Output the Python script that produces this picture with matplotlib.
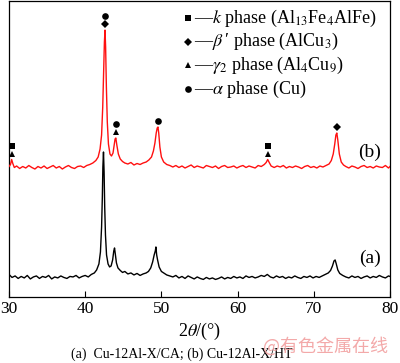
import numpy as np
import matplotlib
matplotlib.use("Agg")
import matplotlib.pyplot as plt

plt.rcParams["font.family"] = ["Liberation Serif", "DejaVu Serif"]
plt.rcParams["mathtext.fontset"] = "stix"

# XRD pattern (a) Cu-12Al-X/CA, intensity in a.u.
black_theta = [
    30.0, 30.4, 30.8, 31.2, 31.6, 32.0, 32.4, 32.8, 33.2, 33.6,
    34.0, 34.4, 34.8, 35.2, 35.6, 36.0, 36.4, 36.8, 37.2, 37.6,
    38.0, 38.4, 38.8, 39.2, 39.6, 40.0, 40.4, 40.8, 41.2,
    41.5, 41.8, 42.0, 42.15, 42.25, 42.32, 42.4, 42.48, 42.56, 42.66,
    42.8, 43.0, 43.2, 43.4, 43.6, 43.75, 43.85, 43.95, 44.1, 44.3,
    44.6, 44.9, 45.2, 45.6, 46.0, 46.4, 46.8, 47.2, 47.6, 48.0,
    48.3, 48.6, 48.85, 49.05, 49.2, 49.28, 49.38, 49.5, 49.7, 50.0,
    50.3, 50.7, 51.1,
    51.5, 51.9, 52.3, 52.7, 53.1, 53.5, 53.9, 54.3, 54.7, 55.1,
    55.5, 55.9, 56.3, 56.7, 57.1, 57.5, 57.9, 58.3, 58.7, 59.1,
    59.5, 59.9, 60.3, 60.7, 61.1, 61.5, 61.9, 62.3, 62.7, 63.1,
    63.5, 63.9, 64.3, 64.7, 65.1, 65.5, 65.9, 66.3, 66.7, 67.1,
    67.5, 67.9, 68.3, 68.7, 69.1, 69.5, 69.9, 70.3, 70.7, 71.1,
    71.5,
    71.9, 72.2, 72.45, 72.65, 72.8, 72.95, 73.15, 73.4, 73.8,
    74.2, 74.6, 75.0, 75.4, 75.8, 76.2, 76.6, 77.0, 77.4, 77.8,
    78.2, 78.6, 79.0, 79.4, 79.8, 80.0,
]
black_int = [
    225, 195, 210, 185, 205, 190, 215, 180, 200, 210,
    185, 205, 195, 215, 180, 200, 190, 210, 195, 185,
    205, 200, 215, 190, 205, 215, 200, 225, 240,
    270, 330, 450, 700, 1000, 1300, 1450, 1250, 900, 620,
    420, 330, 300, 310, 370, 460, 490, 430, 340, 290,
    265, 245, 255, 230, 240, 220, 235, 215, 230, 240,
    255, 290, 350, 420, 460, 500, 420, 370, 300, 255,
    240, 220, 210,
    200, 215, 190, 205, 185, 210, 195, 180, 200, 185,
    175, 195, 180, 190, 175, 185, 200, 180, 195, 185,
    205, 190, 200, 185, 210, 195, 205, 190, 200, 215,
    205, 225, 200, 190, 210, 195, 205, 185, 200, 190,
    210, 195, 185, 205, 195, 210, 190, 205, 195, 210,
    225,
    240, 265, 310, 360, 370, 330, 270, 235, 215,
    200, 190, 210, 195, 205, 185, 200, 210, 190, 205,
    195, 215, 200, 190, 210, 205,
]

# XRD pattern (b) Cu-12Al-X/HT, intensity in a.u. (stacked by red_shift)
red_theta = [
    30.0, 30.2, 30.35, 30.5, 30.7, 31.0,
    31.4, 31.8, 32.2, 32.6, 33.0, 33.4, 33.8, 34.2, 34.6, 35.0,
    35.4, 35.8, 36.2, 36.6, 37.0, 37.4, 37.8, 38.2, 38.6, 39.0,
    39.4, 39.8, 40.2, 40.6, 41.0,
    41.4, 41.7, 41.95, 42.15, 42.3, 42.42, 42.52, 42.6, 42.68, 42.78,
    42.9, 43.05, 43.25, 43.45, 43.65, 43.8, 43.92, 44.02, 44.15, 44.35,
    44.6, 44.9, 45.2, 45.6, 46.0, 46.4, 46.8, 47.2, 47.6, 48.0,
    48.35, 48.7, 48.95, 49.15, 49.32, 49.45, 49.55, 49.65, 49.8, 50.0,
    50.3, 50.7, 51.1,
    51.5, 51.9, 52.3, 52.7, 53.1, 53.5, 53.9, 54.3, 54.7, 55.1,
    55.5, 55.9, 56.3, 56.7, 57.1, 57.5, 57.9, 58.3, 58.7, 59.1,
    59.5, 59.9, 60.3, 60.7, 61.1, 61.5, 61.9, 62.3, 62.7, 63.1,
    63.5, 63.75, 63.95, 64.15, 64.4,
    64.8, 65.2, 65.6, 66.0, 66.4, 66.8, 67.2, 67.6, 68.0, 68.4,
    68.8, 69.2, 69.6, 70.0, 70.4, 70.8, 71.2, 71.6,
    72.0, 72.3, 72.55, 72.75, 72.9, 73.02, 73.15, 73.35, 73.6, 73.9,
    74.2, 74.6, 75.0, 75.4, 75.8, 76.2, 76.6, 77.0, 77.4, 77.8,
    78.2, 78.6, 79.0, 79.4, 79.8, 80.0,
]
red_int = [
    205, 225, 275, 235, 195, 210,
    185, 205, 190, 215, 195, 180, 205, 190, 210, 185,
    200, 215, 190, 205, 180, 200, 215, 195, 185, 205,
    210, 195, 215, 225, 240,
    265, 300, 380, 520, 800, 1150, 1450, 1570, 1400, 1000,
    650, 430, 330, 310, 340, 420, 480, 490, 420, 330,
    280, 255, 240, 230, 245, 220, 235, 225, 240, 250,
    270, 300, 360, 440, 540, 590, 600, 540, 400, 300,
    250, 225, 215,
    200, 215, 195, 210, 190, 205, 220, 195, 210, 200,
    190, 215, 205, 195, 210, 185, 205, 215, 195, 200,
    210, 190, 205, 215, 195, 210, 200, 190, 215, 205,
    225, 245, 275, 245, 210,
    195, 210, 200, 215, 190, 205, 195, 210, 200, 185,
    205, 215, 195, 205, 190, 210, 200, 215,
    230, 265, 330, 430, 520, 540, 470, 330, 250, 220,
    205, 190, 210, 200, 185, 205, 215, 195, 205, 190,
    210, 200, 195, 215, 190, 205,
]
red_shift = 1100

# phase marks over the (b) pattern, listed bottom to top
mark_theta = [30.4, 42.6, 44.0, 49.55, 63.95, 73.0]
mark_phases = [["^", "s"], ["D", "o"], ["^", "o"], ["o"], ["^", "s"], ["D"]]

legend_marks = ["s", "D", "^", "o"]
legend_labels = [
    r"$\mathit{k}$ phase (Al$_{13}$Fe$_{4}$AlFe)",
    r"$\beta$" + "\u2009\u2032 phase (AlCu$_{3}$)",
    r"$\gamma_{2}$ phase (Al$_{4}$Cu$_{9}$)",
    r"$\alpha$ phase (Cu)",
]

fig = plt.figure(figsize=(4.0, 3.63), dpi=100)
ax = fig.add_axes([0.0225, 0.182, 0.9525, 0.815])

red_total = np.array(red_int) + red_shift
ax.plot(black_theta, black_int, color="black", lw=1.0, zorder=2)
ax.plot(red_theta, red_total, color="#ff1010", lw=1.0, zorder=3)

msize = {"s": 4.4, "D": 3.6, "^": 4.6, "o": 4.8}
for th, syms in zip(mark_theta, mark_phases):
    sel = np.abs(np.array(red_theta) - th) < 0.3
    top = red_total[sel].max()
    for i, s in enumerate(syms):
        ax.plot(th, top + 60 + 80 * i, marker=s, color="black", ms=msize[s],
                mew=0, zorder=4)

legend_y = [0.943, 0.862, 0.784, 0.703]
for s, lab, y in zip(legend_marks, legend_labels, legend_y):
    ax.plot(0.470, y, marker=s, color="black", ms=msize[s], mew=0,
            transform=ax.transAxes, clip_on=False)
    ax.text(0.485, y, "\u2014" + lab, transform=ax.transAxes, fontsize=13,
            va="center", ha="left")

ax.text(0.977, 0.49, "(b)", transform=ax.transAxes, fontsize=14,
        ha="right", va="center")
ax.text(0.977, 0.13, "(a)", transform=ax.transAxes, fontsize=14,
        ha="right", va="center")

ax.set_xlim(30, 80)
ax.set_ylim(0, 2960)
ax.set_xticks([30, 40, 50, 60, 70, 80])
ax.set_yticks([])
ax.tick_params(axis="x", direction="in", length=4, width=0.8, pad=3,
               labelsize=12.5, top=False)
for sp in ax.spines.values():
    sp.set_linewidth(0.9)

ax.set_xlabel(r"2$\theta$/(°)", fontsize=13, labelpad=3)

fig.text(0.455, 0.025, "(a)  Cu-12Al-X/CA; (b) Cu-12Al-X/HT", fontsize=10,
         ha="center", va="center")
fig.text(0.815, 0.045, "@有色金属在线", fontsize=13, color="#f2a0a0",
         family=["Noto Sans CJK SC", "DejaVu Sans"], ha="center", va="center",
         alpha=0.9)

fig.savefig("out.png", dpi=100)
